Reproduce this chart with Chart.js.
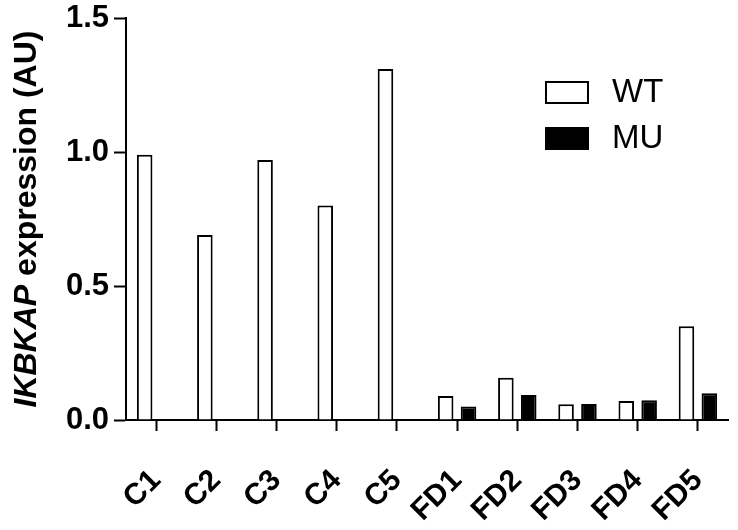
<!DOCTYPE html>
<html>
<head>
<meta charset="utf-8">
<script src="https://cdn.jsdelivr.net/npm/chart.js@4.4.0/dist/chart.umd.min.js"></script>
<style>
	html, body { margin: 0; padding: 0; background: #fff; }
	#wrap { width: 738px; height: 530px; }
</style>
</head>
<body>
<div id="wrap"><canvas id="grafico"></canvas></div>
<script>
var categorias = ['C1', 'C2', 'C3', 'C4', 'C5', 'FD1', 'FD2', 'FD3', 'FD4', 'FD5']
var valoresWT = [0.99, 0.69, 0.97, 0.80, 1.31, 0.09, 0.158, 0.059, 0.071, 0.35]
var valoresMU = [null, null, null, null, null, 0.05, 0.093, 0.06, 0.074, 0.10]
var ticksY = [0, 0.5, 1.0, 1.5]

var fonte = '"Liberation Sans", Arial, sans-serif'

// legenda e titulo do eixo desenhados a mao (estilos misturados)
var extras = {
	id: 'extras',
	afterDraw: function (chart) {
		var ctx = chart.ctx
		var area = chart.chartArea
		ctx.save()

		// titulo eixo y
		var parte1 = 'IKBKAP'
		var parte2 = ' expression (AU)'
		var f1 = 'italic bold 32px ' + fonte
		var f2 = 'bold 32px ' + fonte
		ctx.font = f1
		var w1 = ctx.measureText(parte1).width
		ctx.font = f2
		var w2 = ctx.measureText(parte2).width
		var cy = (area.top + area.bottom) / 2
		ctx.translate(27, cy)
		ctx.rotate(-Math.PI / 2)
		ctx.fillStyle = '#000'
		ctx.textBaseline = 'middle'
		ctx.textAlign = 'left'
		var x0 = -(w1 + w2) / 2
		ctx.font = f1
		ctx.fillText(parte1, x0, 0)
		ctx.font = f2
		ctx.fillText(parte2, x0 + w1, 0)
		ctx.restore()

		// legenda
		ctx.save()
		var lx = 546
		var ly = [82, 128]
		chart.data.datasets.forEach(function (ds, i) {
			ctx.fillStyle = ds.backgroundColor
			ctx.strokeStyle = '#000'
			ctx.lineWidth = 2
			ctx.fillRect(lx, ly[i], 42, 21)
			ctx.strokeRect(lx, ly[i], 42, 21)
			ctx.fillStyle = '#000'
			ctx.font = '33px ' + fonte
			ctx.textBaseline = 'middle'
			ctx.textAlign = 'left'
			ctx.fillText(ds.label, 612, ly[i] + 11)
		})
		ctx.restore()
	}
}

var configChart = {
	type: 'bar',
	data: {
		labels: categorias,
		datasets: [{
			label: 'WT',
			data: valoresWT,
			backgroundColor: '#ffffff',
			borderColor: '#000000',
			borderWidth: 2,
			categoryPercentage: 0.76,
			barPercentage: 0.68
		}, {
			label: 'MU',
			data: valoresMU,
			backgroundColor: '#000000',
			borderColor: '#000000',
			borderWidth: 2,
			categoryPercentage: 0.76,
			barPercentage: 0.68
		}]
	},
	options: {
		responsive: true,
		maintainAspectRatio: false,
		animation: false,
		layout: {
			padding: { top: 18, right: 10, bottom: 0, left: 0 }
		},
		plugins: {
			legend: { display: false },
			tooltip: { enabled: false },
			title: { display: false }
		},
		scales: {
			x: {
				offset: true,
				grid: {
					offset: false,
					drawOnChartArea: false,
					drawTicks: true,
					tickLength: 11,
					tickWidth: 2,
					tickColor: '#000'
				},
				border: { color: '#000', width: 2 },
				ticks: {
					color: '#000',
					font: { family: fonte, size: 30, weight: 'bold' },
					maxRotation: 45,
					minRotation: 45,
					padding: 32
				},
				afterFit: function (scale) {
					scale.height = 110
					scale.paddingLeft = 0
					scale.paddingRight = 0
				}
			},
			y: {
				min: 0,
				max: 1.5,
				grid: {
					drawOnChartArea: false,
					drawTicks: true,
					tickLength: 12,
					tickWidth: 2,
					tickColor: '#000'
				},
				border: { color: '#000', width: 2 },
				afterBuildTicks: function (scale) {
					scale.ticks = ticksY.map(function (v) { return { value: v } })
				},
				ticks: {
					color: '#000',
					font: { family: fonte, size: 31, weight: 'bold' },
					padding: 5,
					callback: function (v) { return Number(v).toFixed(1) }
				},
				afterFit: function (scale) {
					scale.width = 126
					scale.paddingTop = 0
					scale.paddingBottom = 0
				}
			}
		}
	},
	plugins: [extras]
}

var ctx = document.getElementById('grafico').getContext('2d')
window.meuGrafico = new Chart(ctx, configChart)
</script>
</body>
</html>
